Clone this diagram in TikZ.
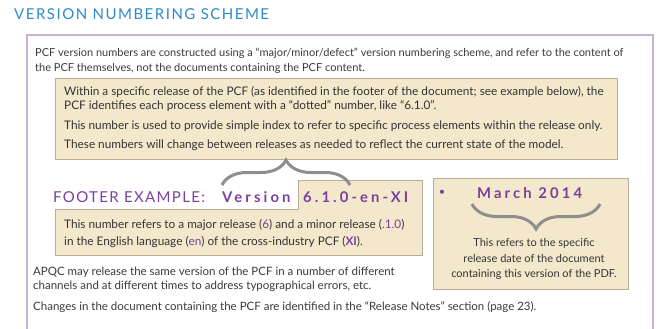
\documentclass[tikz,border=0pt]{standalone}
\usepackage{fontspec}
\setmainfont{Lato}
\newfontfamily\spaced[LetterSpace=21]{Lato}
\newfontfamily\wide[LetterSpace=9]{Lato}
\newfontfamily\headfont[LetterSpace=10]{Lato}
\usetikzlibrary{decorations.pathreplacing}
\definecolor{tan}{HTML}{F3E8CB}
\definecolor{tanline}{HTML}{B8AD95}
\definecolor{plum}{HTML}{7B3F9E}
\definecolor{frame}{HTML}{C7B2D8}
\definecolor{head}{HTML}{2A8BC9}
\definecolor{brc}{HTML}{8E8E8E}
\definecolor{ink}{HTML}{3A3A3A}

\begin{document}
\begin{tikzpicture}
[x=1pt, y=-1pt, font=\fontsize{11}{13}\selectfont,
txt/.style={anchor=west, inner sep=0pt, text=ink},
boxtxt/.style={anchor=west, inner sep=0pt, text=ink!90!black, font=\fontsize{11.8}{14}\selectfont},
mid/.style={anchor=center, inner sep=0pt, text=ink!90!black, font=\fontsize{11}{13}\selectfont},
panel/.style={draw=tanline, fill=tan, line width=0.8pt},
brc/.style={draw=brc, line width=3pt, decorate, decoration={brace, amplitude=25pt}},
ver/.style={anchor=west, inner sep=0pt, text=plum, font=\fontsize{14.8}{16}\selectfont\spaced\bfseries}]

\useasboundingbox (0,0) rectangle (659,329);

\node[anchor=west, inner sep=0pt, text=head, font=\fontsize{15}{17}\selectfont\headfont] (title) at (14,14) {VERSION NUMBERING SCHEME};

% outer frame
\draw[draw=frame, line width=1.4pt] (27,345) -- (27,35) -- (653,35) -- (653,345);

\node[txt] (p1) at (35,53) {PCF version numbers are constructed using a ``major/minor/defect'' version numbering scheme, and refer to the content of};
\node[txt] (p2) at (35,68) {the PCF themselves, not the documents containing the PCF content.};

% box with the dotted numbers
\draw[panel] (55,78) rectangle (617,159);
\node[boxtxt] (b1) at (64,92) {Within a specific release of the PCF (as identified in the footer of the document; see example below), the};
\node[boxtxt] (b2) at (64,106) {PCF identifies each process element with a ``dotted'' number, like ``6.1.0''.};
\node[boxtxt] (b3) at (64,126) {This number is used to provide simple index to refer to specific process elements within the release only.};
\node[boxtxt] (b4) at (64,145) {These numbers will change between releases as needed to reflect the current state of the model.};

% footer example
\draw[panel] (55,209) -- (298,209) -- (298,180) -- (422,180) -- (422,255) -- (55,255) -- cycle;
\node[anchor=west, inner sep=0pt, text=plum, font=\fontsize{15}{17}\selectfont\wide] (footer) at (53,197) {FOOTER EXAMPLE:};
\node[ver] (version) at (222,197) {Version};
\node[ver] (number) at (303,197) {6.1.0-en-XI};
\node[boxtxt] (n1) at (64,225) {This number refers to a major release ({\color{plum}6}) and a minor release ({\color{plum}.1.0})};
\node[boxtxt] (n2) at (64,242) {in the English language ({\color{plum}en}) of the cross-industry PCF ({\color{plum}\bfseries XI}).};

\draw[panel] (433,178) rectangle (628,289);
\node[anchor=center, inner sep=0pt, text=plum] (dot) at (442,193) {\textbullet};
\node[ver] (date) at (477,193) {March 2014};
\node[mid] (d1) at (534,243) {This refers to the specific};
\node[mid] (d2) at (534,258) {release date of the document};
\node[mid] (d3) at (534,274) {containing this version of the PDF.};

% braces
\coordinate (bl) at (222,185);
\coordinate (br) at (350,185);
\draw[brc] (bl) -- (br);
\coordinate (dl) at (472,204);
\coordinate (dr) at (600,204);
\draw[brc] (dr) -- (dl);

\node[txt, font=\fontsize{11.5}{13}\selectfont] (a1) at (33,272) {APQC may release the same version of the PCF in a number of different};
\node[txt, font=\fontsize{11.5}{13}\selectfont] (a2) at (33,286) {channels and at different times to address typographical errors, etc.};
\node[txt, font=\fontsize{11.5}{13}\selectfont] (a3) at (33,307) {Changes in the document containing the PCF are identified in the ``Release Notes'' section (page 23).};
\end{tikzpicture}
\end{document}
